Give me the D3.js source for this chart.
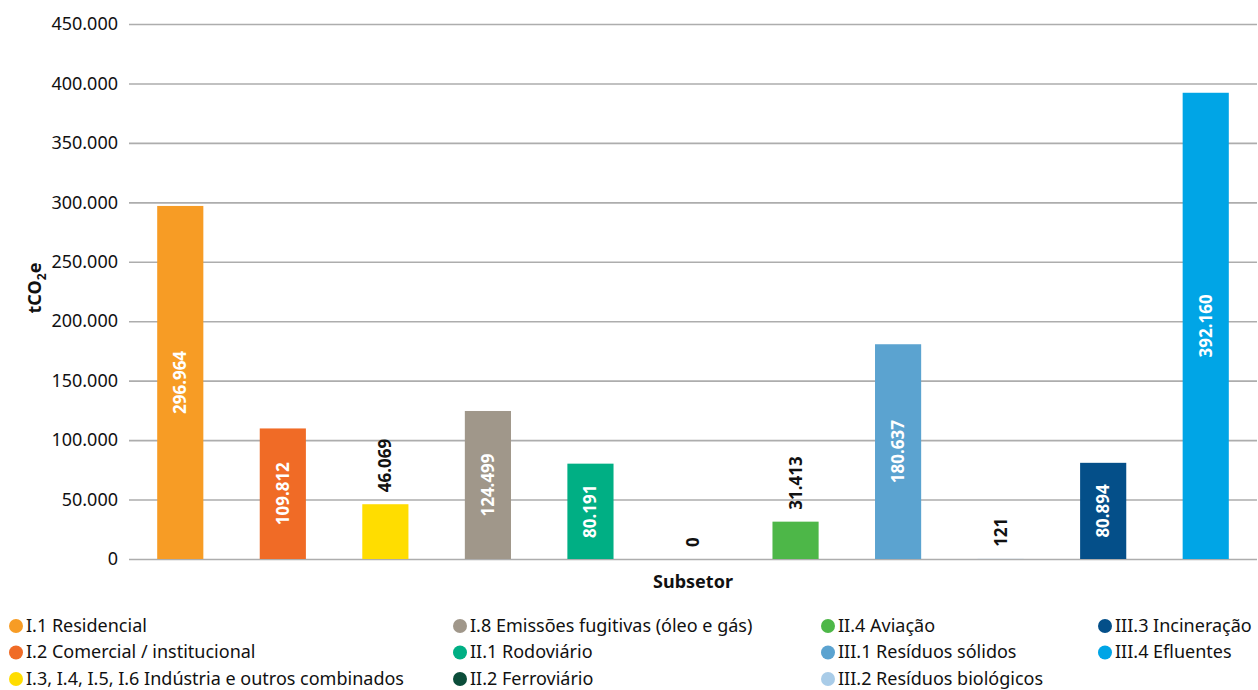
<!DOCTYPE html>
<meta charset="utf-8">
<script src="https://d3js.org/d3.v7.min.js"></script>
<style>
  body { margin: 0; background: #fff; }
  text { font-family: "Noto Sans", "Open Sans", sans-serif; }
</style>
<div id="chart"></div>
<script>

// data
var categories = ["I.1 Residencial", "I.2 Comercial / institucional", "I.3, I.4, I.5, I.6 Indústria e outros combinados",
  "I.8 Emissões fugitivas (óleo e gás)", "II.1 Rodoviário", "II.2 Ferroviário", "II.4 Aviação",
  "III.1 Resíduos sólidos", "III.2 Resíduos biológicos", "III.3 Incineração", "III.4 Efluentes"];
var values = [296964, 109812, 46069, 124499, 80191, 0, 31413, 180637, 121, 80894, 392160];
var colors = ["#f79c25", "#f06b26", "#ffdd00", "#a0978a", "#00af84", "#0b4d3a", "#4db748",
  "#5ba3d0", "#a9cce8", "#044f89", "#00a5e6"];
var yTicks = [0, 50000, 100000, 150000, 200000, 250000, 300000, 350000, 400000, 450000];

var W = 1258, H = 690;
var margin = {top: 24, right: 1, bottom: 131, left: 129},
    width = W - margin.left - margin.right,
    height = H - margin.top - margin.bottom;

var svg = d3.select("#chart").append("svg")
    .attr("width", W)
    .attr("height", H);

var g = svg.append("g")
    .attr("transform", "translate(" + margin.left + "," + margin.top + ")");

var x = d3.scaleBand()
    .domain(categories)
    .range([0, width])
    .paddingInner(0.55)
    .paddingOuter(0.275);

var y = d3.scaleLinear()
    .domain([0, 450000])
    .range([height, 0]);

var fmt = function(v) { return d3.format(",")(v).replace(/,/g, "."); };

// gridlines + y labels
var yAxis = g.append("g")
    .call(d3.axisLeft(y).tickValues(yTicks).tickSize(-width).tickPadding(11).tickFormat(fmt));
yAxis.select(".domain").remove();
yAxis.selectAll(".tick line").attr("stroke", "#adadad").attr("stroke-width", 1.6);
yAxis.selectAll(".tick text")
    .style("font-size", "18px")
    .attr("fill", "#111");

// bars
g.selectAll(".bar")
  .data(values)
  .enter().append("rect")
    .attr("x", function(d, i) { return x(categories[i]); })
    .attr("y", function(d) { return y(d); })
    .attr("width", x.bandwidth())
    .attr("height", function(d) { return height - y(d); })
    .attr("fill", function(d, i) { return colors[i]; });

// value labels
g.selectAll(".lbl")
  .data(values)
  .enter().append("text")
    .attr("transform", function(d, i) {
      var cx = x(categories[i]) + x.bandwidth() / 2;
      var inside = d > 60000;
      var cy = inside ? (y(d) + height) / 2 : y(d) - 12;
      return "translate(" + (cx + 6) + "," + cy + ") rotate(-90)";
    })
    .attr("text-anchor", function(d) { return d > 60000 ? "middle" : "start"; })
    .style("font-size", "17px")
    .style("font-weight", "bold")
    .attr("fill", function(d) { return d > 60000 ? "#fff" : "#111"; })
    .text(function(d) { return fmt(d); });

// axis titles
svg.append("text")
    .attr("x", 693)
    .attr("y", 588)
    .attr("text-anchor", "middle")
    .style("font-size", "18px")
    .style("font-weight", "bold")
    .attr("fill", "#111")
    .text("Subsetor");

var yt = svg.append("text")
    .attr("transform", "translate(41,288) rotate(-90)")
    .attr("text-anchor", "middle")
    .style("font-size", "18px")
    .style("font-weight", "bold")
    .attr("fill", "#111");
yt.append("tspan").text("tCO");
yt.append("tspan").attr("dy", 5).style("font-size", "12px").text("2");
yt.append("tspan").attr("dy", -5).text("e");

// legend (4 columns, 3 rows)
var colX = [16, 460, 828, 1105];
var legend = svg.append("g")
  .selectAll("g")
  .data(categories)
  .enter().append("g")
    .attr("transform", function(d, i) {
      return "translate(" + colX[Math.floor(i / 3)] + "," + (626 + (i % 3) * 26.5) + ")";
    });

legend.append("circle")
    .attr("r", 7)
    .attr("fill", function(d, i) { return colors[i]; });

legend.append("text")
    .attr("x", 10)
    .attr("dy", "0.33em")
    .style("font-size", "18px")
    .attr("fill", "#111")
    .text(function(d) { return d; });

</script>
